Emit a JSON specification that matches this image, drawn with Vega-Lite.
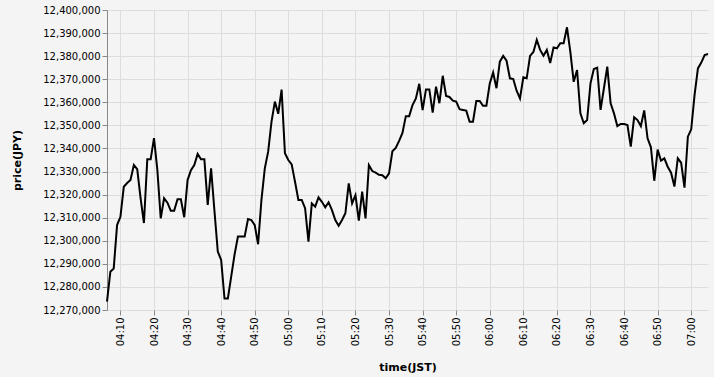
{
  "$schema": "https://vega.github.io/schema/vega-lite/v6.json",
  "width": 601,
  "height": 300,
  "autosize": {"type": "none"},
  "padding": {"left": 107, "top": 10, "right": 6, "bottom": 67},
  "background": "#f4f4f4",
  "config": {
    "view": {"stroke": null},
    "font": "DejaVu Sans",
    "axis": {"labelFont": "DejaVu Sans", "titleFont": "DejaVu Sans", "gridColor": "#dddddd", "domainColor": "#888888", "tickColor": "#888888", "labelColor": "#000000", "titleColor": "#000000"}
  },
  "data": {"values": [
    {"t":"2024-01-01T04:06:00","p":12273600},{"t":"2024-01-01T04:07:00","p":12286600},{"t":"2024-01-01T04:08:00","p":12288000},{"t":"2024-01-01T04:09:00","p":12306800},
    {"t":"2024-01-01T04:10:00","p":12310400},{"t":"2024-01-01T04:11:00","p":12323400},{"t":"2024-01-01T04:12:00","p":12325000},{"t":"2024-01-01T04:13:00","p":12326300},
    {"t":"2024-01-01T04:14:00","p":12332800},{"t":"2024-01-01T04:15:00","p":12331000},{"t":"2024-01-01T04:16:00","p":12318500},{"t":"2024-01-01T04:17:00","p":12307700},
    {"t":"2024-01-01T04:18:00","p":12335300},{"t":"2024-01-01T04:19:00","p":12335300},{"t":"2024-01-01T04:20:00","p":12344500},{"t":"2024-01-01T04:21:00","p":12330600},
    {"t":"2024-01-01T04:22:00","p":12309700},{"t":"2024-01-01T04:23:00","p":12318400},{"t":"2024-01-01T04:24:00","p":12316500},{"t":"2024-01-01T04:25:00","p":12313000},
    {"t":"2024-01-01T04:26:00","p":12313000},{"t":"2024-01-01T04:27:00","p":12318000},{"t":"2024-01-01T04:28:00","p":12318000},{"t":"2024-01-01T04:29:00","p":12310200},
    {"t":"2024-01-01T04:30:00","p":12326300},{"t":"2024-01-01T04:31:00","p":12330600},{"t":"2024-01-01T04:32:00","p":12332800},{"t":"2024-01-01T04:33:00","p":12337600},
    {"t":"2024-01-01T04:34:00","p":12335300},{"t":"2024-01-01T04:35:00","p":12335300},{"t":"2024-01-01T04:36:00","p":12315500},{"t":"2024-01-01T04:37:00","p":12331400},
    {"t":"2024-01-01T04:38:00","p":12313000},{"t":"2024-01-01T04:39:00","p":12295300},{"t":"2024-01-01T04:40:00","p":12291700},{"t":"2024-01-01T04:41:00","p":12275000},
    {"t":"2024-01-01T04:42:00","p":12275000},{"t":"2024-01-01T04:43:00","p":12284600},{"t":"2024-01-01T04:44:00","p":12294100},{"t":"2024-01-01T04:45:00","p":12301800},
    {"t":"2024-01-01T04:46:00","p":12301800},{"t":"2024-01-01T04:47:00","p":12301800},{"t":"2024-01-01T04:48:00","p":12309400},{"t":"2024-01-01T04:49:00","p":12309000},
    {"t":"2024-01-01T04:50:00","p":12306800},{"t":"2024-01-01T04:51:00","p":12298500},{"t":"2024-01-01T04:52:00","p":12317700},{"t":"2024-01-01T04:53:00","p":12331400},
    {"t":"2024-01-01T04:54:00","p":12338600},{"t":"2024-01-01T04:55:00","p":12351600},{"t":"2024-01-01T04:56:00","p":12360300},{"t":"2024-01-01T04:57:00","p":12355000},
    {"t":"2024-01-01T04:58:00","p":12365500},{"t":"2024-01-01T04:59:00","p":12337900},{"t":"2024-01-01T05:00:00","p":12335000},{"t":"2024-01-01T05:01:00","p":12333100},
    {"t":"2024-01-01T05:02:00","p":12325600},{"t":"2024-01-01T05:03:00","p":12317700},{"t":"2024-01-01T05:04:00","p":12317700},{"t":"2024-01-01T05:05:00","p":12314100},
    {"t":"2024-01-01T05:06:00","p":12299600},{"t":"2024-01-01T05:07:00","p":12316200},{"t":"2024-01-01T05:08:00","p":12314800},{"t":"2024-01-01T05:09:00","p":12318800},
    {"t":"2024-01-01T05:10:00","p":12316900},{"t":"2024-01-01T05:11:00","p":12314500},{"t":"2024-01-01T05:12:00","p":12316700},{"t":"2024-01-01T05:13:00","p":12313300},
    {"t":"2024-01-01T05:14:00","p":12309000},{"t":"2024-01-01T05:15:00","p":12306500},{"t":"2024-01-01T05:16:00","p":12309000},{"t":"2024-01-01T05:17:00","p":12311900},
    {"t":"2024-01-01T05:18:00","p":12324900},{"t":"2024-01-01T05:19:00","p":12316200},{"t":"2024-01-01T05:20:00","p":12319800},{"t":"2024-01-01T05:21:00","p":12308700},
    {"t":"2024-01-01T05:22:00","p":12321300},{"t":"2024-01-01T05:23:00","p":12309700},{"t":"2024-01-01T05:24:00","p":12332800},{"t":"2024-01-01T05:25:00","p":12330200},
    {"t":"2024-01-01T05:26:00","p":12329500},{"t":"2024-01-01T05:27:00","p":12328600},{"t":"2024-01-01T05:28:00","p":12328400},{"t":"2024-01-01T05:29:00","p":12327100},
    {"t":"2024-01-01T05:30:00","p":12329200},{"t":"2024-01-01T05:31:00","p":12338800},{"t":"2024-01-01T05:32:00","p":12340200},{"t":"2024-01-01T05:33:00","p":12343300},
    {"t":"2024-01-01T05:34:00","p":12346700},{"t":"2024-01-01T05:35:00","p":12354000},{"t":"2024-01-01T05:36:00","p":12354000},{"t":"2024-01-01T05:37:00","p":12358800},
    {"t":"2024-01-01T05:38:00","p":12361700},{"t":"2024-01-01T05:39:00","p":12368000},{"t":"2024-01-01T05:40:00","p":12356600},{"t":"2024-01-01T05:41:00","p":12365600},
    {"t":"2024-01-01T05:42:00","p":12365600},{"t":"2024-01-01T05:43:00","p":12355500},{"t":"2024-01-01T05:44:00","p":12366800},{"t":"2024-01-01T05:45:00","p":12359600},
    {"t":"2024-01-01T05:46:00","p":12371500},{"t":"2024-01-01T05:47:00","p":12362700},{"t":"2024-01-01T05:48:00","p":12362300},{"t":"2024-01-01T05:49:00","p":12360700},
    {"t":"2024-01-01T05:50:00","p":12360300},{"t":"2024-01-01T05:51:00","p":12357000},{"t":"2024-01-01T05:52:00","p":12356700},{"t":"2024-01-01T05:53:00","p":12356400},
    {"t":"2024-01-01T05:54:00","p":12351600},{"t":"2024-01-01T05:55:00","p":12351600},{"t":"2024-01-01T05:56:00","p":12360600},{"t":"2024-01-01T05:57:00","p":12360600},
    {"t":"2024-01-01T05:58:00","p":12358500},{"t":"2024-01-01T05:59:00","p":12358500},{"t":"2024-01-01T06:00:00","p":12368200},{"t":"2024-01-01T06:01:00","p":12372900},
    {"t":"2024-01-01T06:02:00","p":12366100},{"t":"2024-01-01T06:03:00","p":12377600},{"t":"2024-01-01T06:04:00","p":12380100},{"t":"2024-01-01T06:05:00","p":12378000},
    {"t":"2024-01-01T06:06:00","p":12370400},{"t":"2024-01-01T06:07:00","p":12370100},{"t":"2024-01-01T06:08:00","p":12365000},{"t":"2024-01-01T06:09:00","p":12361700},
    {"t":"2024-01-01T06:10:00","p":12370800},{"t":"2024-01-01T06:11:00","p":12370400},{"t":"2024-01-01T06:12:00","p":12380100},{"t":"2024-01-01T06:13:00","p":12381800},
    {"t":"2024-01-01T06:14:00","p":12387000},{"t":"2024-01-01T06:15:00","p":12382700},{"t":"2024-01-01T06:16:00","p":12380200},{"t":"2024-01-01T06:17:00","p":12382700},
    {"t":"2024-01-01T06:18:00","p":12377000},{"t":"2024-01-01T06:19:00","p":12383800},{"t":"2024-01-01T06:20:00","p":12383400},{"t":"2024-01-01T06:21:00","p":12385600},
    {"t":"2024-01-01T06:22:00","p":12385600},{"t":"2024-01-01T06:23:00","p":12392500},{"t":"2024-01-01T06:24:00","p":12381900},{"t":"2024-01-01T06:25:00","p":12368900},
    {"t":"2024-01-01T06:26:00","p":12374000},{"t":"2024-01-01T06:27:00","p":12355200},{"t":"2024-01-01T06:28:00","p":12350900},{"t":"2024-01-01T06:29:00","p":12352300},
    {"t":"2024-01-01T06:30:00","p":12368200},{"t":"2024-01-01T06:31:00","p":12374400},{"t":"2024-01-01T06:32:00","p":12375000},{"t":"2024-01-01T06:33:00","p":12356700},
    {"t":"2024-01-01T06:34:00","p":12366100},{"t":"2024-01-01T06:35:00","p":12375500},{"t":"2024-01-01T06:36:00","p":12359600},{"t":"2024-01-01T06:37:00","p":12355200},
    {"t":"2024-01-01T06:38:00","p":12349700},{"t":"2024-01-01T06:39:00","p":12350600},{"t":"2024-01-01T06:40:00","p":12350600},{"t":"2024-01-01T06:41:00","p":12350200},
    {"t":"2024-01-01T06:42:00","p":12340800},{"t":"2024-01-01T06:43:00","p":12353500},{"t":"2024-01-01T06:44:00","p":12352300},{"t":"2024-01-01T06:45:00","p":12349700},
    {"t":"2024-01-01T06:46:00","p":12356500},{"t":"2024-01-01T06:47:00","p":12344400},{"t":"2024-01-01T06:48:00","p":12340500},{"t":"2024-01-01T06:49:00","p":12326000},
    {"t":"2024-01-01T06:50:00","p":12339500},{"t":"2024-01-01T06:51:00","p":12334700},{"t":"2024-01-01T06:52:00","p":12335700},{"t":"2024-01-01T06:53:00","p":12332100},
    {"t":"2024-01-01T06:54:00","p":12329500},{"t":"2024-01-01T06:55:00","p":12323500},{"t":"2024-01-01T06:56:00","p":12335700},{"t":"2024-01-01T06:57:00","p":12333800},
    {"t":"2024-01-01T06:58:00","p":12323000},{"t":"2024-01-01T06:59:00","p":12345100},{"t":"2024-01-01T07:00:00","p":12348300},{"t":"2024-01-01T07:01:00","p":12363200},
    {"t":"2024-01-01T07:02:00","p":12374700},{"t":"2024-01-01T07:03:00","p":12377200},{"t":"2024-01-01T07:04:00","p":12380500},{"t":"2024-01-01T07:05:00","p":12380900}
  ]},
  "mark": {"type": "line", "color": "#000000", "strokeWidth": 2},
  "encoding": {
    "x": {
      "field": "t", "type": "temporal", "title": "time(JST)",
      "scale": {"nice": false},
      "axis": {
        "format": "%H:%M", "labelAngle": -90, "labelFontSize": 10, "titleFontSize": 11, "titlePadding": 16, "domain": false,
        "values": [
          {"year":2024,"month":1,"date":1,"hours":4,"minutes":10},{"year":2024,"month":1,"date":1,"hours":4,"minutes":20},
          {"year":2024,"month":1,"date":1,"hours":4,"minutes":30},{"year":2024,"month":1,"date":1,"hours":4,"minutes":40},
          {"year":2024,"month":1,"date":1,"hours":4,"minutes":50},{"year":2024,"month":1,"date":1,"hours":5,"minutes":0},
          {"year":2024,"month":1,"date":1,"hours":5,"minutes":10},{"year":2024,"month":1,"date":1,"hours":5,"minutes":20},
          {"year":2024,"month":1,"date":1,"hours":5,"minutes":30},{"year":2024,"month":1,"date":1,"hours":5,"minutes":40},
          {"year":2024,"month":1,"date":1,"hours":5,"minutes":50},{"year":2024,"month":1,"date":1,"hours":6,"minutes":0},
          {"year":2024,"month":1,"date":1,"hours":6,"minutes":10},{"year":2024,"month":1,"date":1,"hours":6,"minutes":20},
          {"year":2024,"month":1,"date":1,"hours":6,"minutes":30},{"year":2024,"month":1,"date":1,"hours":6,"minutes":40},
          {"year":2024,"month":1,"date":1,"hours":6,"minutes":50},{"year":2024,"month":1,"date":1,"hours":7,"minutes":0}
        ]
      }
    },
    "y": {
      "field": "p", "type": "quantitative", "title": "price(JPY)",
      "scale": {"domain": [12270000, 12400000], "nice": false, "zero": false},
      "axis": {"format": ",d", "tickCount": 13, "labelFontSize": 10, "titleFontSize": 11, "titlePadding": 20}
    }
  }
}
